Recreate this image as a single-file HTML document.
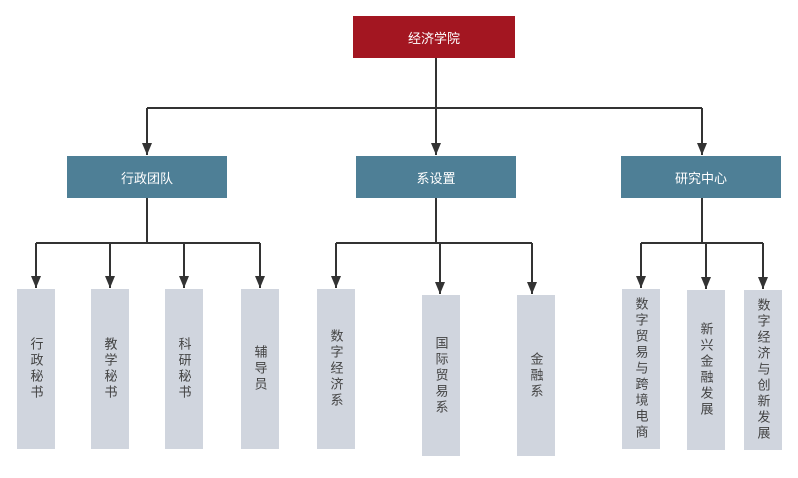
<!DOCTYPE html>
<html><head><meta charset="utf-8"><style>
body{margin:0;width:798px;height:478px;background:#fff;position:relative;overflow:hidden;font-family:"Liberation Sans","Noto Sans CJK SC",sans-serif}
.b{position:absolute;display:flex;align-items:center;justify-content:center;color:#fff;font-size:13px}
.top{background:#a31621}
.mid{background:#4e7f96}
.leaf{position:absolute;background:#d0d5de;color:#444;font-size:13px;display:flex;align-items:center;justify-content:center;writing-mode:vertical-rl;letter-spacing:3px;width:38px}
svg{position:absolute;left:0;top:0}
</style></head><body>
<svg width="798" height="478">
<defs><marker id="a" markerWidth="12" markerHeight="12" refX="12" refY="5" orient="auto" markerUnits="userSpaceOnUse"><path d="M0,0 L12,5 L0,10z" fill="#333"/></marker></defs>
<g stroke="#333" stroke-width="2" fill="none">
<path d="M436,58 V108 M147,108 H702"/>
<path d="M147,108 V155" marker-end="url(#a)"/>
<path d="M436,108 V155" marker-end="url(#a)"/>
<path d="M702,108 V155" marker-end="url(#a)"/>
<path d="M147,198 V243 M36,243 H260"/>
<path d="M36,243 V288" marker-end="url(#a)"/>
<path d="M110,243 V288" marker-end="url(#a)"/>
<path d="M184,243 V288" marker-end="url(#a)"/>
<path d="M260,243 V288" marker-end="url(#a)"/>
<path d="M436,198 V243 M336,243 H532"/>
<path d="M336,243 V288" marker-end="url(#a)"/>
<path d="M440,243 V294" marker-end="url(#a)"/>
<path d="M532,243 V294" marker-end="url(#a)"/>
<path d="M702,198 V243 M641,243 H763"/>
<path d="M641,243 V288" marker-end="url(#a)"/>
<path d="M706,243 V289" marker-end="url(#a)"/>
<path d="M763,243 V289" marker-end="url(#a)"/>
</g></svg>
<div class="b top" style="left:353px;top:16px;width:162px;height:42px">经济学院</div>
<div class="b mid" style="left:67px;top:156px;width:160px;height:42px">行政团队</div>
<div class="b mid" style="left:356px;top:156px;width:160px;height:42px">系设置</div>
<div class="b mid" style="left:621px;top:156px;width:160px;height:42px">研究中心</div>
<div class="leaf" style="left:17px;top:289px;height:160px">行政秘书</div>
<div class="leaf" style="left:91px;top:289px;height:160px">教学秘书</div>
<div class="leaf" style="left:165px;top:289px;height:160px">科研秘书</div>
<div class="leaf" style="left:241px;top:289px;height:160px">辅导员</div>
<div class="leaf" style="left:317px;top:289px;height:160px">数字经济系</div>
<div class="leaf" style="left:422px;top:295px;height:161px">国际贸易系</div>
<div class="leaf" style="left:517px;top:295px;height:161px">金融系</div>
<div class="leaf" style="left:622px;top:289px;height:160px">数字贸易与跨境电商</div>
<div class="leaf" style="left:687px;top:290px;height:160px">新兴金融发展</div>
<div class="leaf" style="left:744px;top:290px;height:160px">数字经济与创新发展</div>
</body></html>
